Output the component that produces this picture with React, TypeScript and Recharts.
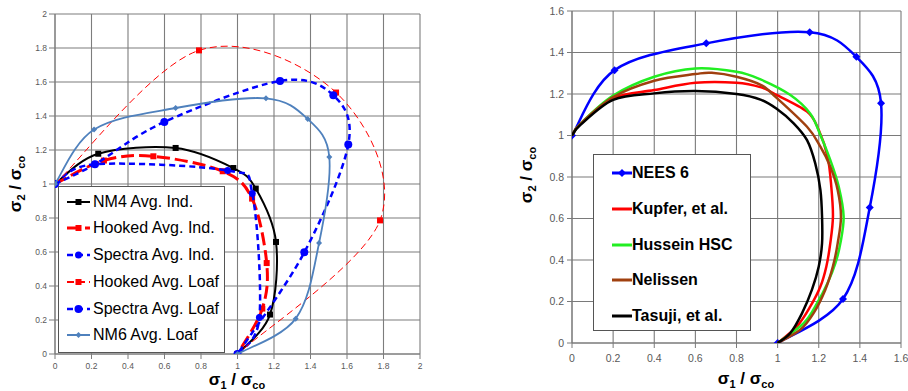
import { ScatterChart, Scatter, XAxis, YAxis, CartesianGrid } from 'recharts';

type Pt = [number, number];

// tick values
const leftTicks = [0, 0.2, 0.4, 0.6, 0.8, 1, 1.2, 1.4, 1.6, 1.8, 2];
const rightTicks = [0, 0.2, 0.4, 0.6, 0.8, 1, 1.2, 1.4, 1.6];

// left panel: tests (sigma1/sigma_co, sigma2/sigma_co)
const nm4Ind: Pt[] = [[0, 1], [0.237, 1.178], [0.661, 1.212], [0.977, 1.094], [1.1, 0.973], [1.211, 0.659], [1.178, 0.232], [1, 0]];
const hookedInd: Pt[] = [[0, 1], [0.268, 1.138], [0.539, 1.163], [0.919, 1.075], [1.08, 0.914], [1.16, 0.535], [1.136, 0.267], [1, 0]];
const spectraInd: Pt[] = [[0, 1], [0.219, 1.116], [0.946, 1.079], [1.081, 0.944], [1.12, 0.214], [1, 0]];
const hookedLoaf: Pt[] = [[0, 1], [0.789, 1.786], [1.54, 1.538], [1.781, 0.786], [1, 0]];
const spectraLoaf: Pt[] = [[0, 1], [0.219, 1.116], [0.599, 1.365], [1.233, 1.606], [1.525, 1.522], [1.607, 1.232], [1.366, 0.598], [1, 0]];
const nm6Loaf: Pt[] = [[0, 1], [0.214, 1.32], [0.661, 1.447], [1.156, 1.504], [1.385, 1.382], [1.503, 1.159], [1.447, 0.653], [1.319, 0.208], [1, 0]];

// right panel: test vs failure criteria
const nees6: Pt[] = [[0, 1], [0.207, 1.315], [0.653, 1.444], [1.156, 1.498], [1.383, 1.379], [1.503, 1.155], [1.448, 0.653], [1.318, 0.212], [1, 0]];
const kupfer: Pt[] = [[0, 1], [0.04, 1.055], [0.2, 1.18], [0.4, 1.219], [0.6, 1.254], [0.8, 1.254], [0.92, 1.232], [0.98, 1.203], [1.143, 1.115], [1.2, 1.026], [1.243, 0.898], [1.261, 0.754], [1.269, 0.609], [1.256, 0.48], [1.237, 0.369], [1.208, 0.272], [1.159, 0.176], [1.094, 0.08], [1, 0]];
const hussein: Pt[] = [[0, 1], [0.04, 1.055], [0.2, 1.192], [0.4, 1.283], [0.6, 1.323], [0.8, 1.307], [0.917, 1.27], [1.062, 1.195], [1.159, 1.105], [1.208, 1.002], [1.256, 0.882], [1.297, 0.754], [1.321, 0.609], [1.305, 0.48], [1.281, 0.385], [1.243, 0.289], [1.192, 0.192], [1.127, 0.096], [1, 0]];
const nelissen: Pt[] = [[0, 1], [0.04, 1.055], [0.2, 1.185], [0.4, 1.264], [0.6, 1.296], [0.68, 1.302], [0.8, 1.283], [0.92, 1.243], [0.98, 1.195], [1.143, 1.042], [1.208, 0.946], [1.256, 0.85], [1.292, 0.738], [1.308, 0.609], [1.292, 0.48], [1.269, 0.369], [1.232, 0.257], [1.175, 0.144], [1.11, 0.064], [1, 0]];
const tasuji: Pt[] = [[0, 1], [0.04, 1.05], [0.2, 1.172], [0.4, 1.203], [0.6, 1.214], [0.8, 1.2], [0.92, 1.172], [1.0, 1.125], [1.078, 1.059], [1.143, 0.978], [1.183, 0.866], [1.208, 0.738], [1.216, 0.609], [1.216, 0.48], [1.2, 0.369], [1.167, 0.257], [1.119, 0.144], [1.062, 0.048], [1, 0]];

const toPts = (a: Pt[]) => a.map(([x, y]) => ({ x, y }));

// Excel-like smoothed line (Catmull-Rom as bezier), used as a d3 curve factory
const excelSmooth: any = (ctx: any) => {
  let pts: number[][] = [];
  const t = 1 / 6;
  return {
    areaStart() {},
    areaEnd() {},
    lineStart() { pts = []; },
    point(x: number, y: number) { pts.push([x, y]); },
    lineEnd() {
      if (!pts.length) return;
      ctx.moveTo(pts[0][0], pts[0][1]);
      for (let i = 0; i < pts.length - 1; i++) {
        const p0 = pts[Math.max(i - 1, 0)];
        const p1 = pts[i];
        const p2 = pts[i + 1];
        const p3 = pts[Math.min(i + 2, pts.length - 1)];
        ctx.bezierCurveTo(
          p1[0] + (p2[0] - p0[0]) * t, p1[1] + (p2[1] - p0[1]) * t,
          p2[0] - (p3[0] - p1[0]) * t, p2[1] - (p3[1] - p1[1]) * t,
          p2[0], p2[1]);
      }
    },
  };
};

function Mark({ kind, cx, cy, s, color }: any) {
  if (cx == null || cy == null || !kind) return <g />;
  if (kind === 'square') return <rect x={cx - s / 2} y={cy - s / 2} width={s} height={s} fill={color} />;
  if (kind === 'circle') return <circle cx={cx} cy={cy} r={s / 2} fill={color} />;
  return <polygon points={`${cx},${cy - s / 2} ${cx + s / 2},${cy} ${cx},${cy + s / 2} ${cx - s / 2},${cy}`} fill={color} />;
}

const leftSeries = [
  { name: 'NM4 Avg. Ind.', data: nm4Ind, color: '#000000', width: 2, dash: undefined, mark: 'square', size: 6 },
  { name: 'Hooked Avg. Ind.', data: hookedInd, color: '#ff0000', width: 3, dash: '13 5', mark: 'square', size: 6 },
  { name: 'Spectra Avg. Ind.', data: spectraInd, color: '#0000ff', width: 2.5, dash: '6 4', mark: 'circle', size: 7 },
  { name: 'Hooked Avg. Loaf', data: hookedLoaf, color: '#ff0000', width: 1, dash: '7 4', mark: 'square', size: 6 },
  { name: 'Spectra Avg. Loaf', data: spectraLoaf, color: '#0000ff', width: 2.5, dash: '6 4', mark: 'circle', size: 8 },
  { name: 'NM6 Avg. Loaf', data: nm6Loaf, color: '#4f81bd', width: 1.8, dash: undefined, mark: 'diamond', size: 6 },
];

const rightSeries = [
  { name: 'NEES 6', data: nees6, color: '#0000ff', width: 2.5, mark: 'diamond', size: 8 },
  { name: 'Kupfer, et al.', data: kupfer, color: '#ff0000', width: 2.5, mark: '', size: 0 },
  { name: 'Hussein HSC', data: hussein, color: '#22ee22', width: 2.5, mark: '', size: 0 },
  { name: 'Nelissen', data: nelissen, color: '#a0400f', width: 2.5, mark: '', size: 0 },
  { name: 'Tasuji, et al.', data: tasuji, color: '#000000', width: 2.5, mark: '', size: 0 },
];

function AxisTitle({ sub1, x, y, vertical }: { sub1: string; x: number; y: number; vertical?: boolean }) {
  return (
    <div style={{
      position: 'absolute', left: x, top: y, whiteSpace: 'nowrap', fontWeight: 'bold', fontSize: 17,
      lineHeight: '14px', color: '#000',
      transform: `translate(-50%, -50%)${vertical ? ' rotate(-90deg)' : ''}`,
    }}>
      σ<sub style={{ fontSize: 11, lineHeight: 0 }}>{sub1}</sub> / σ<sub style={{ fontSize: 11, lineHeight: 0 }}>co</sub>
    </div>
  );
}

function Sample({ color, width, dash, mark, size, w }: any) {
  return (
    <svg width={w} height={14} style={{ display: 'block' }}>
      <line x1={0} x2={w} y1={7} y2={7} stroke={color} strokeWidth={width} strokeDasharray={dash} />
      <Mark kind={mark} cx={w / 2} cy={7} s={size} color={color} />
    </svg>
  );
}

const tickL = { fontSize: 8.5, fill: '#595959' };
const tickR = { fontSize: 10.5, fill: '#595959' };

export default function App() {
  return (
    <div style={{ position: 'absolute', left: 0, top: 0, width: 908, height: 391, background: '#fff', overflow: 'hidden', fontFamily: '"Liberation Sans", Arial, sans-serif' }}>
      <div style={{ position: 'absolute', left: 0, top: 0 }}>
        <ScatterChart width={440} height={391} margin={{ top: 14, right: 20, bottom: 0, left: 0 }}>
          <CartesianGrid stroke="#7d7d7d" strokeWidth={1.1} />
          <XAxis type="number" dataKey="x" domain={[0, 2]} ticks={leftTicks} interval={0} height={37}
            tickSize={5} tickMargin={4} stroke="#7d7d7d" tick={tickL} allowDataOverflow />
          <YAxis type="number" dataKey="y" domain={[0, 2]} ticks={leftTicks} interval={0} width={55}
            tickSize={6} tickMargin={2} stroke="#7d7d7d" tick={tickL} allowDataOverflow />
          {leftSeries.map((s) => (
            <Scatter key={s.name} name={s.name} data={toPts(s.data)} fill={s.color}
              line={{ stroke: s.color, strokeWidth: s.width, strokeDasharray: s.dash }}
              lineJointType={excelSmooth}
              shape={(p: any) => <Mark kind={s.mark} cx={p.cx} cy={p.cy} s={s.size} color={s.color} />}
              isAnimationActive={false} />
          ))}
        </ScatterChart>
      </div>

      <div style={{ position: 'absolute', left: 460, top: 0 }}>
        <ScatterChart width={448} height={391} margin={{ top: 11, right: 7, bottom: 0, left: 0 }}>
          <CartesianGrid stroke="#7a7a7a" strokeWidth={1.1} />
          <XAxis type="number" dataKey="x" domain={[0, 1.6]} ticks={rightTicks} interval={0} height={48}
            tickSize={5} tickMargin={7} stroke="#7a7a7a" tick={tickR} allowDataOverflow />
          <YAxis type="number" dataKey="y" domain={[0, 1.6]} ticks={rightTicks} interval={0} width={112}
            tickSize={5} tickMargin={3} stroke="#7a7a7a" tick={tickR} allowDataOverflow />
          {rightSeries.map((s) => (
            <Scatter key={s.name} name={s.name} data={toPts(s.data)} fill={s.color}
              line={{ stroke: s.color, strokeWidth: s.width }}
              lineJointType={excelSmooth}
              shape={(p: any) => <Mark kind={s.mark} cx={p.cx} cy={p.cy} s={s.size} color={s.color} />}
              isAnimationActive={false} />
          ))}
        </ScatterChart>
      </div>

      {/* left legend */}
      <div style={{ position: 'absolute', left: 58, top: 186, width: 167, height: 167, boxSizing: 'border-box', border: '1px solid #555', background: '#fff' }}>
        {leftSeries.map((s, i) => (
          <div key={s.name} style={{ position: 'absolute', left: 8, top: 14.7 + i * 26.7 - 10, height: 20, display: 'flex', alignItems: 'center' }}>
            <Sample color={s.color} width={Math.max(s.width, 2)} dash={s.dash} mark={s.mark} size={s.size} w={23} />
            <span style={{ marginLeft: 3, fontSize: 16, lineHeight: '20px', whiteSpace: 'nowrap' }}>{s.name}</span>
          </div>
        ))}
      </div>

      {/* right legend */}
      <div style={{ position: 'absolute', left: 593, top: 154, width: 158, height: 177, boxSizing: 'border-box', border: '1px solid #555', background: '#fff' }}>
        {rightSeries.map((s, i) => (
          <div key={s.name} style={{ position: 'absolute', left: 18, top: 18 + i * 35.75 - 10, height: 20, display: 'flex', alignItems: 'center' }}>
            <Sample color={s.color} width={3} mark={s.mark} size={s.size} w={20} />
            <span style={{ fontSize: 16, fontWeight: 'bold', lineHeight: '20px', whiteSpace: 'nowrap' }}>{s.name}</span>
          </div>
        ))}
      </div>

      <AxisTitle sub1="2" x={16} y={184} vertical />
      <AxisTitle sub1="1" x={237} y={380} />
      <AxisTitle sub1="2" x={527} y={175} vertical />
      <AxisTitle sub1="1" x={746} y={379} />
    </div>
  );
}
